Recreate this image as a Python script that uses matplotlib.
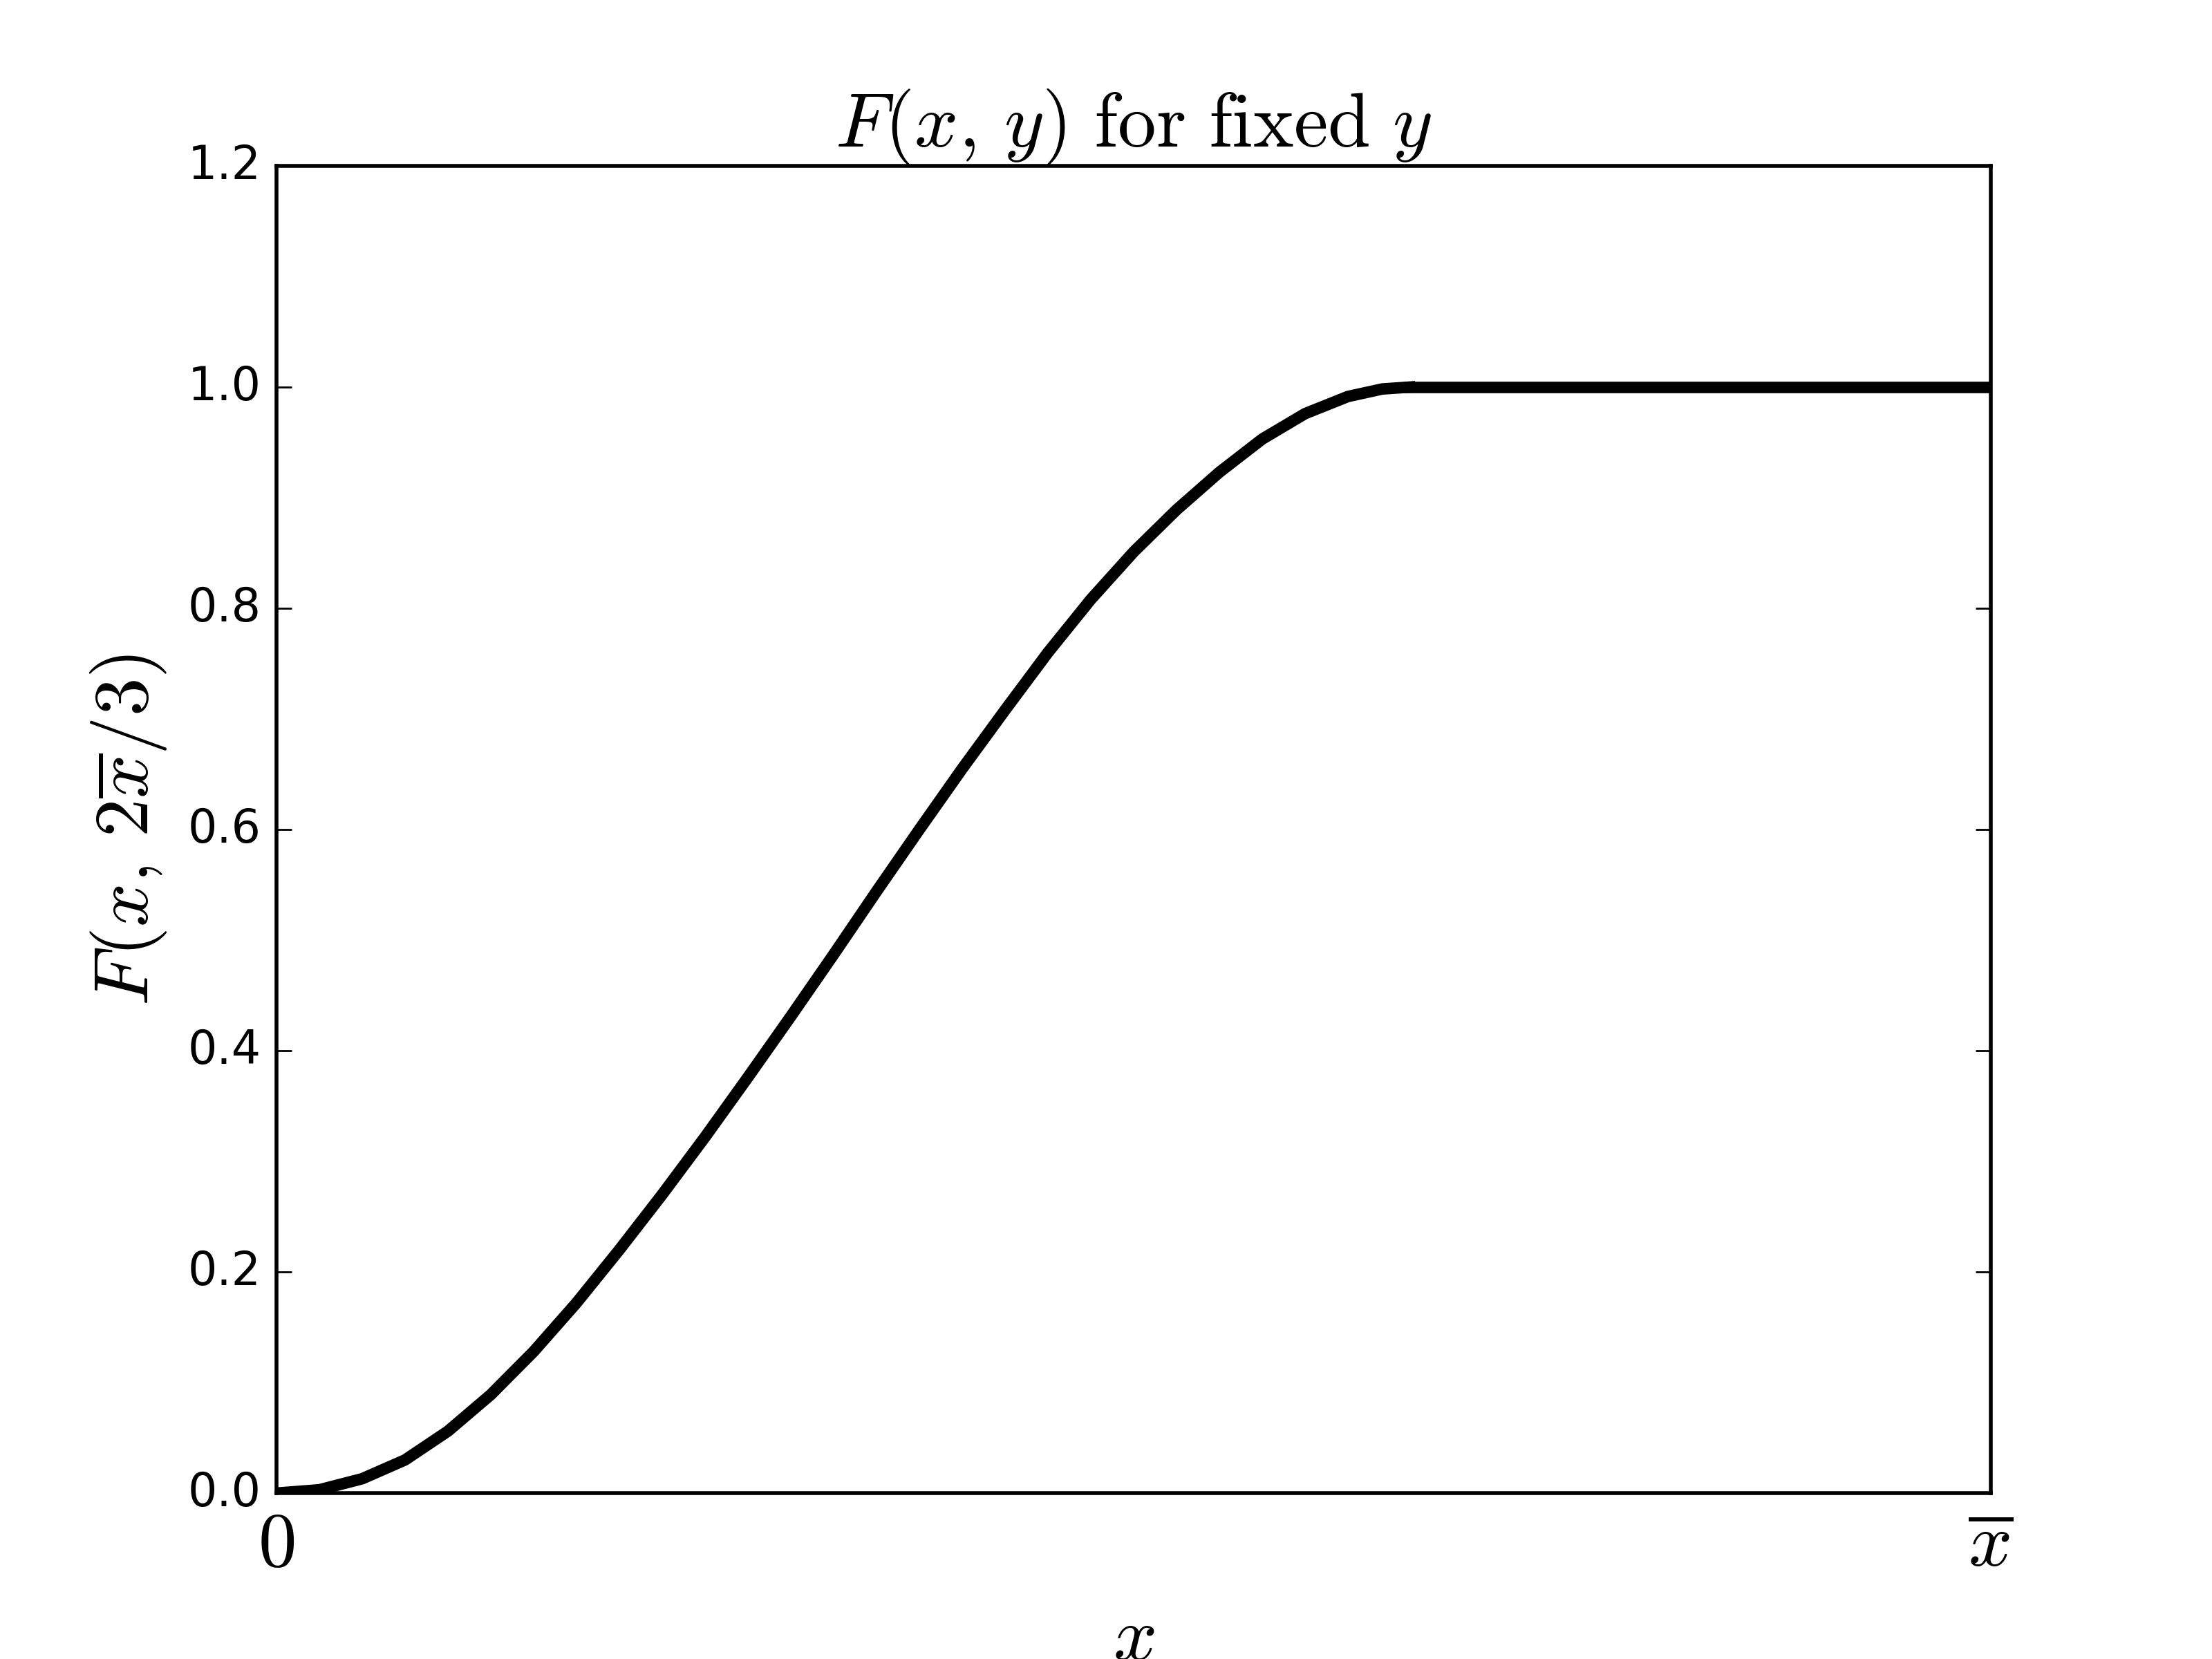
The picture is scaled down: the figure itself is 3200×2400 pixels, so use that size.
import matplotlib
matplotlib.use('Agg')
import matplotlib.pyplot as plt

plt.style.use('classic')
plt.rcParams['mathtext.fontset'] = 'cm'

# rising part, x in units of x-bar
x_rise = [0.0, 0.025, 0.05, 0.075, 0.1, 0.125, 0.15, 0.175, 0.2, 0.225,
          0.25, 0.275, 0.3, 0.325, 0.35, 0.375, 0.4, 0.425, 0.45, 0.475,
          0.5, 0.525, 0.55, 0.575, 0.6, 0.625, 0.645, 0.661]
y_rise = [0.0, 0.003, 0.013, 0.030, 0.056, 0.089, 0.128, 0.172, 0.220, 0.270,
          0.322, 0.376, 0.431, 0.487, 0.544, 0.600, 0.655, 0.708, 0.760, 0.808,
          0.851, 0.889, 0.923, 0.953, 0.976, 0.9915, 0.9983, 1.0]

# flat part
x_flat = [0.661, 1.0]
y_flat = [1.0, 1.0]

xtick_pos = [0, 1]
xtick_labels = [r'$0$', r'$\overline{x}$']

fig = plt.figure(figsize=(8, 6))
ax = fig.add_subplot(111)
ax.plot(x_rise, y_rise, color='k', linewidth=3)
ax.plot(x_flat, y_flat, color='k', linewidth=3)

ax.set_xlim(0, 1)
ax.set_ylim(0, 1.2)
ax.set_xticks(xtick_pos)
ax.set_xticklabels(xtick_labels, fontsize=20)
ax.set_title(r'$F(x,\, y)\ \mathrm{for\ fixed}\ y$', fontsize=20)
ax.set_xlabel(r'$x$', fontsize=20)
ax.set_ylabel(r'$F(x,\, 2\overline{x}/3)$', fontsize=20)

fig.savefig('out.png', dpi=400)
